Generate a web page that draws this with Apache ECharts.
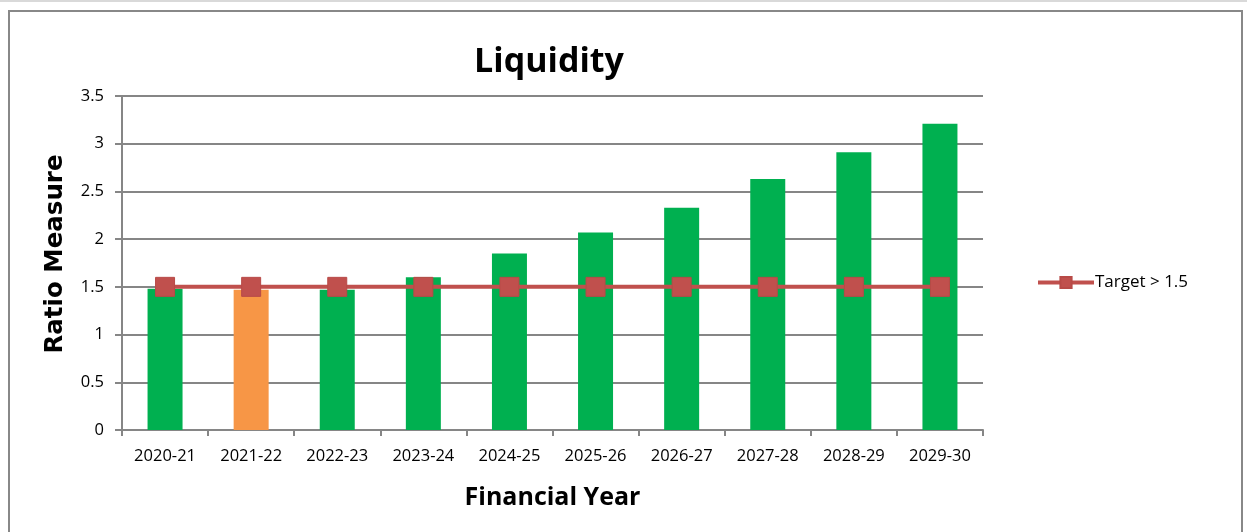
<!DOCTYPE html>
<html>
<head>
<meta charset="utf-8">
<script src="https://cdn.jsdelivr.net/npm/echarts@6/dist/echarts.min.js"></script>
<style>
html,body{margin:0;padding:0;background:#fff;}
#wrap{position:absolute;left:0;top:0;width:1247px;height:532px;}
#topline{position:absolute;left:0;top:0;width:1247px;height:2px;background:#d9d9d9;}
#frame{position:absolute;left:8px;top:10px;width:1235px;height:530px;border:2px solid #888;border-bottom:none;box-sizing:border-box;}
#chart{position:absolute;left:0;top:0;width:1247px;height:532px;}
</style>
</head>
<body>
<div id="wrap">
<div id="topline"></div>
<div id="frame"></div>
<div id="chart"></div>
</div>
<script>
var categories = ['2020-21','2021-22','2022-23','2023-24','2024-25','2025-26','2026-27','2027-28','2028-29','2029-30'];
var ratioValues = [1.48, 1.47, 1.47, 1.60, 1.85, 2.07, 2.33, 2.63, 2.91, 3.21];
var targetValues = [1.5, 1.5, 1.5, 1.5, 1.5, 1.5, 1.5, 1.5, 1.5, 1.5];
var highlightIndex = 1;

var chart = echarts.init(document.getElementById('chart'), null, {renderer:'canvas'});
var font = '"Open Sans", sans-serif';
chart.setOption({
  animation:false,
  backgroundColor:'transparent',
  title:{text:'Liquidity', left:544, top:40, textAlign:'center',
    textStyle:{fontFamily:font, fontWeight:'bold', fontSize:34, color:'#000'}},
  legend:{data:['Target > 1.5'], left:1036, top:274, padding:0, itemWidth:56, itemHeight:14, itemGap:4,
    lineStyle:{width:4},
    textStyle:{fontFamily:font, fontSize:17, color:'#000', padding:[0,0,0,-4]}},
  grid:{left:122, right:264, top:96, bottom:102, containLabel:false},
  xAxis:{type:'category', data:categories, boundaryGap:true,
    axisLine:{lineStyle:{color:'#868686', width:2}},
    axisTick:{show:true, length:6, lineStyle:{color:'#868686', width:2}},
    axisLabel:{fontFamily:font, fontSize:16.5, color:'#000', margin:18},
    name:'Financial Year', nameLocation:'middle', nameGap:55,
    nameTextStyle:{fontFamily:font, fontWeight:'bold', fontSize:25, color:'#000'}},
  yAxis:{type:'value', min:0, max:3.5, interval:0.5,
    axisLine:{show:true, lineStyle:{color:'#868686', width:2}},
    axisTick:{show:true, length:7, inside:false, lineStyle:{color:'#868686', width:2}},
    splitLine:{lineStyle:{color:'#868686', width:2}},
    axisLabel:{fontFamily:font, fontSize:16.5, color:'#000', margin:18},
    name:'Ratio Measure', nameLocation:'middle', nameGap:54, nameRotate:90,
    nameTextStyle:{fontFamily:'"DejaVu Sans", sans-serif', fontWeight:'bold', fontSize:24.5, color:'#000', padding:[0,0,0,18]}},
  series:[
    {name:'Ratio', type:'bar', barWidth:35, z:2,
     data:ratioValues.map(function(v,i){return {value:v, itemStyle:{color: i===highlightIndex ? '#f79646' : '#00b050'}};})},
    {name:'Target > 1.5', type:'line', data:targetValues, z:3,
     symbol:'rect', symbolSize:19, showSymbol:true,
     lineStyle:{color:'#c0504d', width:4},
     itemStyle:{color:'#c0504d', borderColor:'#b84a47', borderWidth:1}}
  ]
});
</script>
</body>
</html>
